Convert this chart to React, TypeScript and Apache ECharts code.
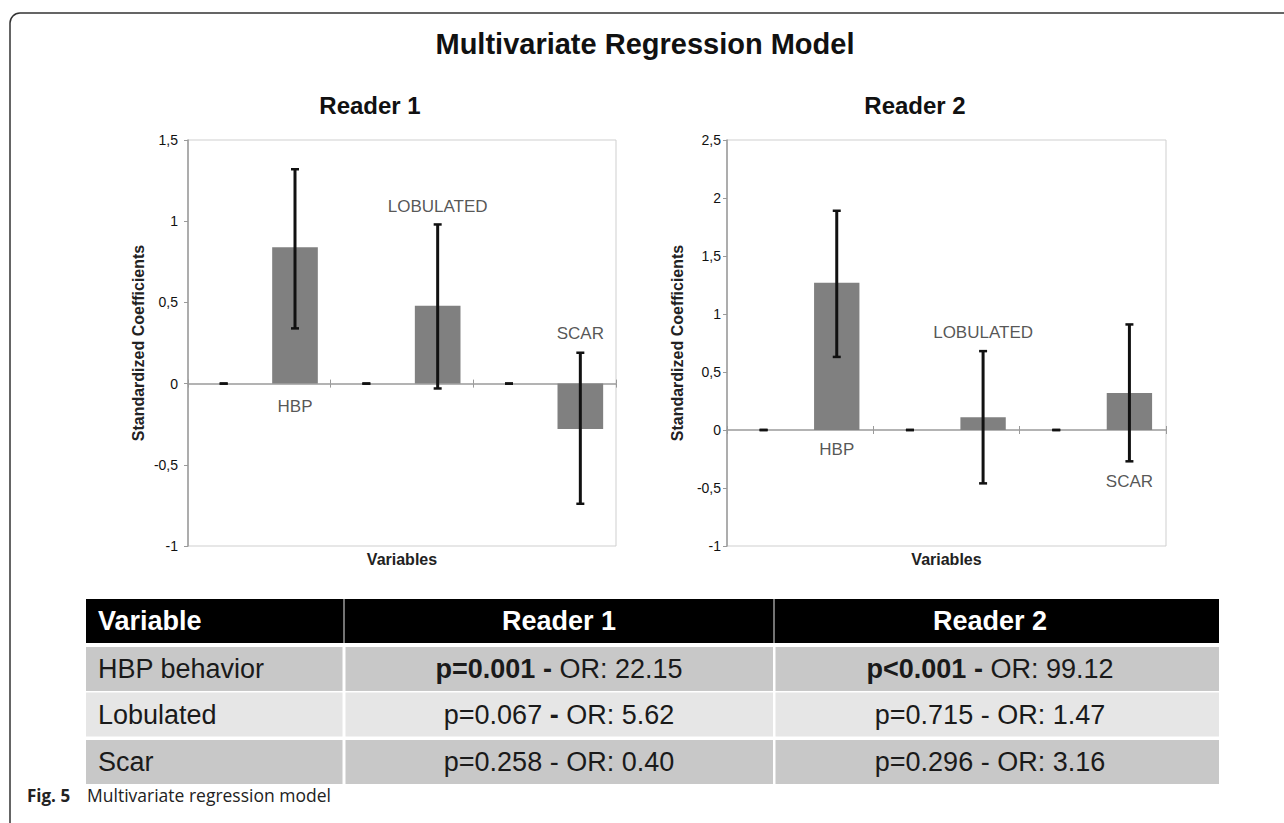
import React, { useEffect, useRef } from "react";
import * as echarts from "echarts";

// ---------- DATA ----------
const categories = ["", "HBP", "", "LOBULATED", "", "SCAR"];

const reader1Coef = [0, 0.84, 0, 0.48, 0, -0.28];
const reader1Low = [0, 0.34, 0, -0.03, 0, -0.74];
const reader1High = [0, 1.32, 0, 0.98, 0, 0.19];
const reader1LabelY = [null, -0.14, null, 1.09, null, 0.31];

const reader2Coef = [0, 1.27, 0, 0.11, 0, 0.32];
const reader2Low = [0, 0.63, 0, -0.46, 0, -0.27];
const reader2High = [0, 1.89, 0, 0.68, 0, 0.91];
const reader2LabelY = [null, -0.17, null, 0.84, null, -0.44];

const reader1AxisMin = -1;
const reader1AxisMax = 1.5;
const reader2AxisMin = -1;
const reader2AxisMax = 2.5;
const axisStep = 0.5;

const mainTitle = "Multivariate Regression Model";
const chartTitles = ["Reader 1", "Reader 2"];
const yAxisName = "Standardized Coefficients";
const xAxisName = "Variables";

const tableHeader = ["Variable", "Reader 1", "Reader 2"];
const tableVariables = ["HBP behavior", "Lobulated", "Scar"];
const reader1P = ["p=0.001", "p=0.067", "p=0.258"];
const reader1OR = ["22.15", "5.62", "0.40"];
const reader1PBold = [true, false, false];
const reader1DashBold = [true, true, false];
const reader2P = ["p<0.001", "p=0.715", "p=0.296"];
const reader2OR = ["99.12", "1.47", "3.16"];
const reader2PBold = [true, false, false];
const reader2DashBold = [true, false, false];

const captionLabel = "Fig. 5";
const captionText = "Multivariate regression model";

// ---------- STYLE ----------
const FONT = "'Liberation Sans', Arial, Helvetica, sans-serif";
const AXIS_GRAY = "#9a9a9a";
const BAR_GRAY = "#808080";

const fmt = (v: number) => String(v).replace(".", ",");

function errorSeries(xAxisIndex: number, yAxisIndex: number, low: number[], high: number[]) {
  return {
    type: "custom",
    xAxisIndex,
    yAxisIndex,
    z: 5,
    silent: true,
    data: low.map((l, i) => [i, l, high[i]]),
    encode: { x: 0, y: [1, 2] },
    renderItem: (params: any, api: any) => {
      const x = api.value(0);
      const pHi = api.coord([x, api.value(2)]);
      const pLo = api.coord([x, api.value(1)]);
      const hw = 4;
      const stroke = "#111";
      return {
        type: "group",
        children: [
          { type: "line", shape: { x1: pHi[0], y1: pHi[1], x2: pLo[0], y2: pLo[1] }, style: { stroke, lineWidth: 3 } },
          { type: "line", shape: { x1: pHi[0] - hw, y1: pHi[1], x2: pHi[0] + hw, y2: pHi[1] }, style: { stroke, lineWidth: 2.5 } },
          { type: "line", shape: { x1: pLo[0] - hw, y1: pLo[1], x2: pLo[0] + hw, y2: pLo[1] }, style: { stroke, lineWidth: 2.5 } },
        ],
      };
    },
  };
}

function labelSeries(xAxisIndex: number, yAxisIndex: number, ys: (number | null)[]) {
  const data: any[] = [];
  ys.forEach((y, i) => {
    if (y !== null) data.push({ name: categories[i], value: [i, y] });
  });
  return {
    type: "scatter",
    xAxisIndex,
    yAxisIndex,
    z: 6,
    silent: true,
    symbolSize: 0,
    data,
    label: { show: true, position: "inside", formatter: "{b}", fontSize: 17, color: "#2a2a2a", fontFamily: FONT },
  };
}

function xAxesFor(gridIndex: number, yIdx: number) {
  return [
    {
      gridIndex,
      type: "category",
      data: categories,
      boundaryGap: true,
      axisLine: { onZero: true, onZeroAxisIndex: yIdx, lineStyle: { color: AXIS_GRAY, width: 1.5 } },
      axisTick: { show: true, inside: false, length: 4, lineStyle: { color: AXIS_GRAY } },
      axisLabel: { show: false },
      splitLine: { show: false },
    },
    {
      gridIndex,
      type: "category",
      data: categories,
      position: "bottom",
      axisLine: { show: false, onZero: true, onZeroAxisIndex: yIdx },
      axisTick: { show: true, inside: true, length: 4, lineStyle: { color: AXIS_GRAY } },
      axisLabel: { show: false },
      splitLine: { show: false },
    },
    {
      gridIndex,
      type: "category",
      data: categories,
      position: "bottom",
      axisLine: { show: false, onZero: false },
      axisTick: { show: false },
      axisLabel: { show: false },
      splitLine: { show: false },
      name: xAxisName,
      nameLocation: "middle",
      nameGap: 5,
      nameTextStyle: { fontSize: 16, fontWeight: "bold", color: "#222", fontFamily: FONT },
    },
  ];
}

function yAxisFor(gridIndex: number, min: number, max: number, margin: number) {
  return {
    gridIndex,
    type: "value",
    min,
    max,
    interval: axisStep,
    axisLine: { show: true, lineStyle: { color: AXIS_GRAY, width: 1.5 } },
    axisTick: { show: true, length: 4, lineStyle: { color: AXIS_GRAY } },
    splitLine: { show: false },
    axisLabel: { fontSize: 14, color: "#111", fontFamily: FONT, margin, formatter: fmt },
    name: yAxisName,
    nameLocation: "middle",
    nameGap: 42,
    nameTextStyle: { fontSize: 16, fontWeight: "bold", color: "#222", fontFamily: FONT },
  };
}

// ---------- TABLE (graphic) ----------
function buildTable() {
  const els: any[] = [];
  const left = 86;
  const right = 1219;
  const colL = [86, 345.5, 775.5];
  const colR = [342.5, 773, 1219];
  const textCenters = [0, 559, 990];
  const headTop = 599;
  const headH = 44;
  const rowTops = [647, 692.5, 740];
  const rowH = 44;
  const rowFill = ["#c8c8c8", "#e6e6e6", "#c8c8c8"];
  const body = 27;

  els.push({ type: "rect", shape: { x: left, y: headTop, width: right - left, height: headH }, style: { fill: "#000" } });
  [344, 774].forEach((x) =>
    els.push({ type: "line", shape: { x1: x, y1: headTop, x2: x, y2: headTop + headH }, style: { stroke: "#9a9a9a", lineWidth: 1.5 } })
  );
  tableHeader.forEach((h, c) => {
    els.push({
      type: "text",
      x: c === 0 ? 98 : textCenters[c],
      y: headTop + headH / 2,
      style: {
        text: h,
        fill: "#fff",
        font: `bold ${body}px ${FONT}`,
        align: c === 0 ? "left" : "center",
        verticalAlign: "middle",
      },
    });
  });

  const rich = {
    b: { fontWeight: "bold", fontSize: body, fontFamily: FONT, fill: "#1a1a1a", color: "#1a1a1a" },
    n: { fontWeight: "normal", fontSize: body, fontFamily: FONT, fill: "#1a1a1a", color: "#1a1a1a" },
  };
  const cellText = (p: string, pb: boolean, db: boolean, or: string) =>
    `{${pb ? "b" : "n"}|${p}}{n| }{${db ? "b" : "n"}|-}{n| OR: ${or}}`;

  tableVariables.forEach((v, r) => {
    const y = rowTops[r];
    for (let c = 0; c < 3; c++) {
      els.push({ type: "rect", shape: { x: colL[c], y, width: colR[c] - colL[c], height: rowH }, style: { fill: rowFill[r] } });
    }
    els.push({
      type: "text",
      x: 98,
      y: y + rowH / 2,
      style: { text: v, fill: "#1a1a1a", font: `${body}px ${FONT}`, align: "left", verticalAlign: "middle" },
    });
    els.push({
      type: "text",
      x: textCenters[1],
      y: y + rowH / 2,
      style: {
        text: cellText(reader1P[r], reader1PBold[r], reader1DashBold[r], reader1OR[r]),
        rich,
        font: `${body}px ${FONT}`,
        fill: "#1a1a1a",
        align: "center",
        verticalAlign: "middle",
      },
    });
    els.push({
      type: "text",
      x: textCenters[2],
      y: y + rowH / 2,
      style: {
        text: cellText(reader2P[r], reader2PBold[r], reader2DashBold[r], reader2OR[r]),
        rich,
        font: `${body}px ${FONT}`,
        fill: "#1a1a1a",
        align: "center",
        verticalAlign: "middle",
      },
    });
  });
  return els;
}

function buildOption() {
  const graphic: any[] = [
    {
      type: "rect",
      z: -10,
      shape: { x: 10, y: 13, width: 1400, height: 1000, r: 10 },
      style: { fill: "none", stroke: "#333", lineWidth: 1.5 },
    },
    ...buildTable(),
    {
      type: "text",
      x: 27,
      y: 795,
      style: { text: captionLabel, font: `bold 17px 'Open Sans', sans-serif`, fill: "#222", verticalAlign: "middle" },
    },
    {
      type: "text",
      x: 87,
      y: 795,
      style: { text: captionText, font: `17.5px 'Open Sans', sans-serif`, fill: "#222", verticalAlign: "middle" },
    },
  ];

  return {
    animation: false,
    backgroundColor: "#fff",
    title: [
      {
        text: mainTitle,
        left: 645,
        top: 29,
        padding: 0,
        textAlign: "center",
        textStyle: { fontSize: 29, fontWeight: "bold", color: "#111", fontFamily: FONT },
      },
      {
        text: chartTitles[0],
        left: 370,
        top: 93,
        padding: 0,
        textAlign: "center",
        textStyle: { fontSize: 24, fontWeight: "bold", color: "#111", fontFamily: FONT },
      },
      {
        text: chartTitles[1],
        left: 915,
        top: 93,
        padding: 0,
        textAlign: "center",
        textStyle: { fontSize: 24, fontWeight: "bold", color: "#111", fontFamily: FONT },
      },
    ],
    grid: [
      { left: 188, top: 140, width: 428, height: 406, show: true, borderColor: "#cfcfcf", borderWidth: 1, backgroundColor: "transparent" },
      { left: 727, top: 140, width: 439, height: 406, show: true, borderColor: "#cfcfcf", borderWidth: 1, backgroundColor: "transparent" },
    ],
    xAxis: [...xAxesFor(0, 0), ...xAxesFor(1, 1)],
    yAxis: [yAxisFor(0, reader1AxisMin, reader1AxisMax, 10), yAxisFor(1, reader2AxisMin, reader2AxisMax, 6)],
    series: [
      {
        type: "bar",
        xAxisIndex: 0,
        yAxisIndex: 0,
        data: reader1Coef,
        barWidth: "64%",
        itemStyle: { color: BAR_GRAY },
        silent: true,
      },
      errorSeries(0, 0, reader1Low, reader1High),
      labelSeries(0, 0, reader1LabelY),
      {
        type: "bar",
        xAxisIndex: 3,
        yAxisIndex: 1,
        data: reader2Coef,
        barWidth: "62%",
        itemStyle: { color: BAR_GRAY },
        silent: true,
      },
      errorSeries(3, 1, reader2Low, reader2High),
      labelSeries(3, 1, reader2LabelY),
    ],
    graphic,
  };
}

export default function App() {
  const ref = useRef<HTMLDivElement>(null);
  useEffect(() => {
    if (!ref.current) return;
    const chart = echarts.init(ref.current, null, { renderer: "svg" });
    chart.setOption(buildOption() as any);
    return () => chart.dispose();
  }, []);
  return (
    <div
      ref={ref}
      style={{ position: "fixed", left: 0, top: 0, width: 1284, height: 823, background: "#fff" }}
    />
  );
}
